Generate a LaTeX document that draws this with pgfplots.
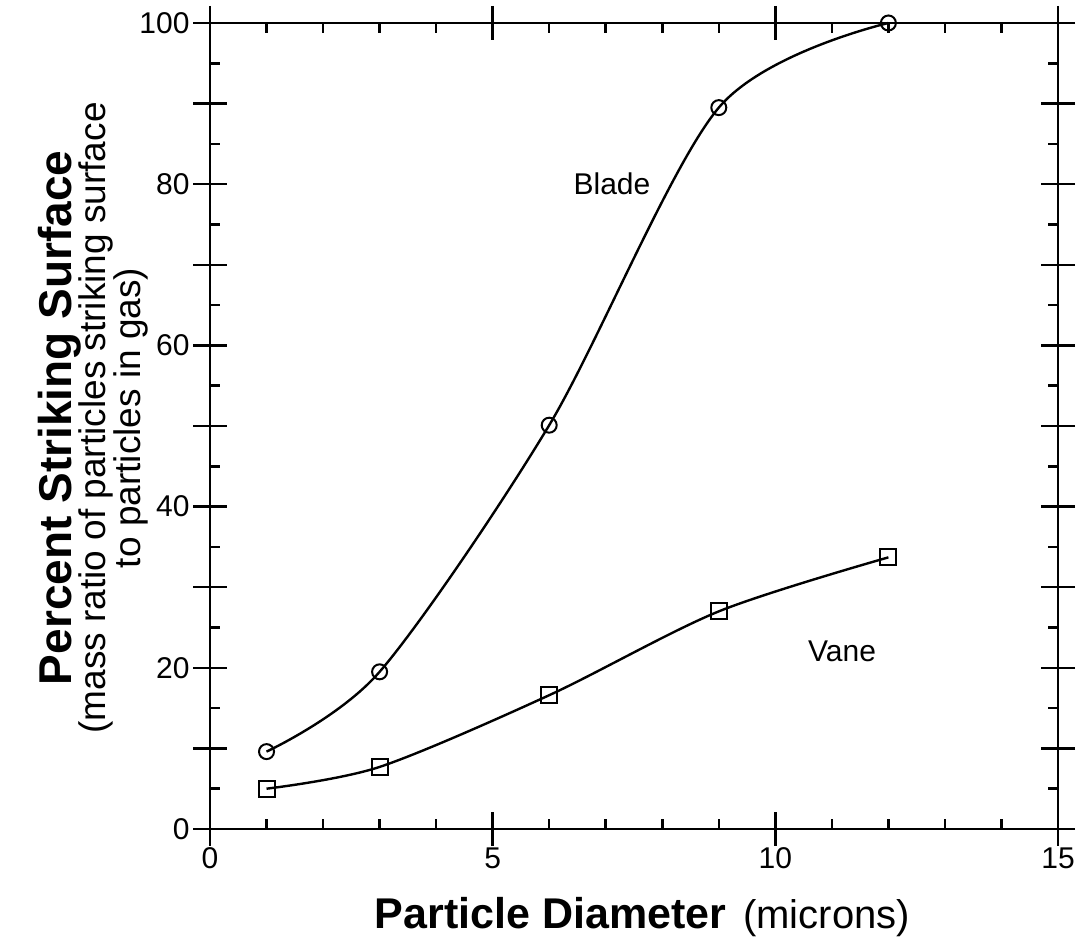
\documentclass[border=0pt]{standalone}
\usepackage{fontspec}
\setmainfont{Liberation Sans}
\usepackage{pgfplots}
\pgfplotsset{compat=1.18}

\pgfplotsset{
  base/.style={
    at={(210pt,123pt)}, anchor=south west,
    scale only axis, width=848pt, height=806pt,
    xmin=0, xmax=15, ymin=0, ymax=100,
    axis line style={line width=2.5pt},
    every tick/.style={black, line width=2.5pt},
    clip=false,
  },
}

\begin{document}
\begin{tikzpicture}
\path[use as bounding box] (0,0) rectangle (1082pt,952pt);

% short inside ticks
\begin{axis}[base,
    xtick={1,2,3,4,6,7,8,9,11,12,13,14},
    ytick={5,15,...,95},
    xticklabels={}, yticklabels={},
    tick align=inside, major tick length=10pt,
]
\end{axis}

% long crossing ticks, data and labels
\begin{axis}[base,
    xtick={0,5,10,15}, ytick={0,10,...,100},
    yticklabels={0,,20,,40,,60,,80,,100},
    tick align=center, major tick length=34pt,
    tick label style={font=\fontsize{30}{34}\selectfont},
    /pgf/number format/assume math mode=true,
    xticklabel style={yshift=2pt},
    yticklabel style={xshift=0pt},
]
\addplot[line width=2.4pt, smooth, mark=o, mark size=7.5pt,
    mark options={line width=2pt, fill=white}]
  coordinates {(1,9.6) (3,19.5) (6,50.1) (9,89.5) (12,100)};
\addplot[line width=2.4pt, smooth, mark=square, mark size=8pt,
    mark options={line width=2pt, fill=white}]
  coordinates {(1,5.0) (3,7.7) (6,16.6) (9,27.0) (12,33.7)};

\node[font=\fontsize{30}{34}\selectfont] at (axis cs:7.11,80.1) {Blade};
\node[font=\fontsize{30}{34}\selectfont] at (axis cs:11.18,22.0) {Vane};

\node[anchor=center] at (rel axis cs:0.51,-0.109)
  {\fontsize{43}{50}\selectfont\bfseries Particle Diameter\hspace{17pt}\fontsize{40}{48}\selectfont\mdseries (microns)};

\node[rotate=90, align=center, anchor=center,
      font=\fontsize{37}{38}\selectfont] at (rel axis cs:-0.1375,0.51)
  {{\fontsize{46}{50}\selectfont\bfseries Percent Striking Surface}\\[-4pt]
   (mass ratio of particles striking surface\\[-3pt]
   to particles in gas)};
\end{axis}
\end{tikzpicture}
\end{document}
